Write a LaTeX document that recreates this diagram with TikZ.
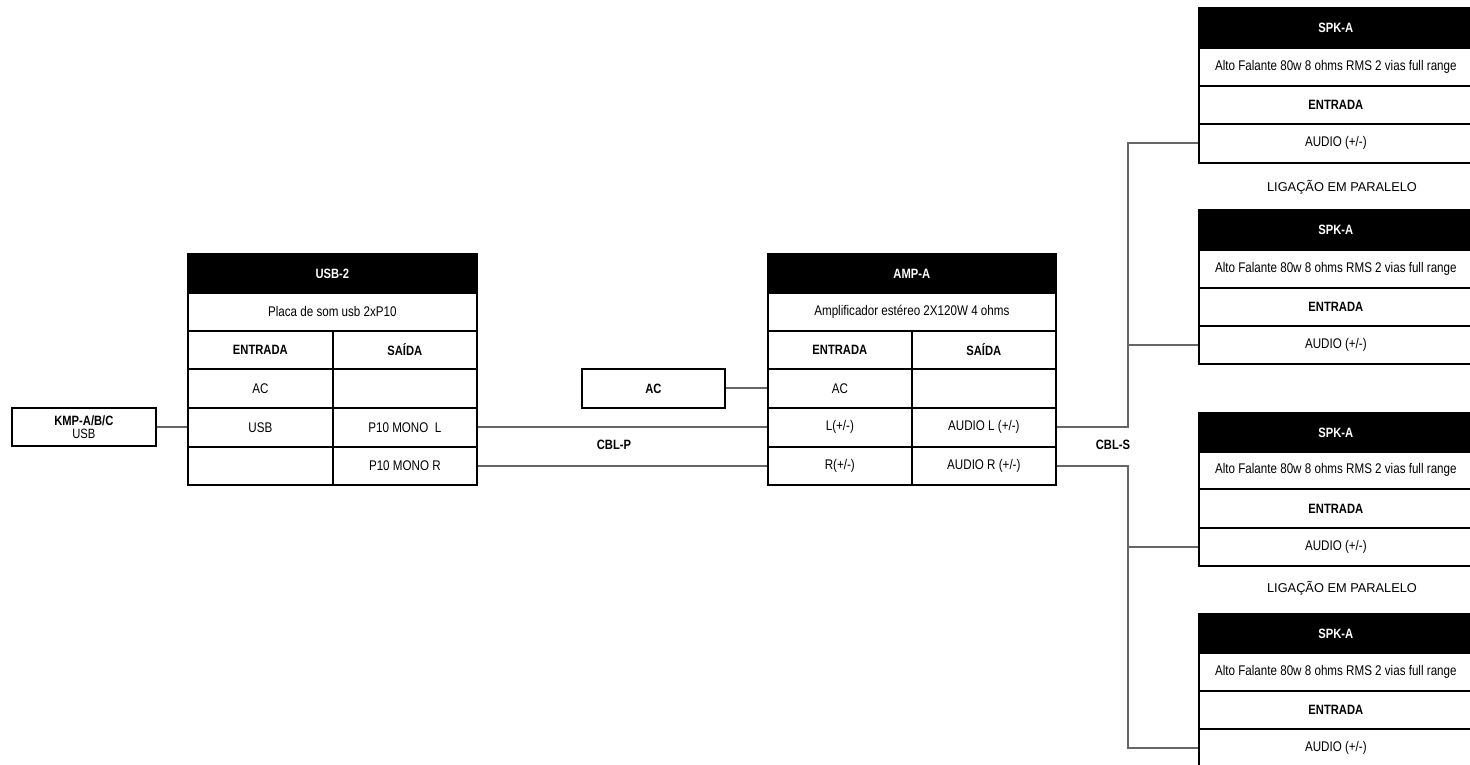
\documentclass[tikz,border=0pt]{standalone}
\usepackage{fontspec}
\setmainfont{Liberation Sans}[FakeStretch=0.83]
\newfontfamily\ligfont{Liberation Sans}
\usetikzlibrary{calc}
\definecolor{wiregray}{HTML}{666666}
\tikzset{
  cell/.style={draw=black, line width=1.7pt, fill=white, inner sep=0pt, anchor=north west, font=\fontsize{14}{16}\selectfont, align=center},
  headcell/.style={cell, fill=black, text=white, font=\fontsize{13.5}{16}\selectfont\bfseries},
  boldcell/.style={cell, font=\fontsize{13.5}{16}\selectfont\bfseries},
  wire/.style={draw=wiregray, line width=1.8pt},
  cbl/.style={font=\fontsize{13.5}{16}\selectfont\bfseries, inner sep=0pt},
  lig/.style={font=\ligfont\fontsize{12.8}{14}\selectfont, inner sep=0pt}
}
\newcommand{\mycell}[7]{% style, name, x1, y1, x2, y2, text
  \node[#1, minimum width={#5-#3}, minimum height={#6-#4}] (#2) at (#3,#4) {#7};}
\newcommand{\speaker}[3]{% prefix, top, rows (header, desc, entrada, bottom)
  \begingroup
  \pgfmathsetmacro{\ya}{#2}%
  \foreach \hb/\db/\eb/\bb in {#3}{%
    \mycell{headcell}{#1h}{1198}{\ya}{1472}{\hb}{SPK-A}
    \mycell{cell}{#1d}{1198}{\hb}{1472}{\db}{Alto Falante 80w 8 ohms RMS 2 vias full range}
    \mycell{boldcell}{#1e}{1198}{\db}{1472}{\eb}{ENTRADA}
    \mycell{cell}{#1a}{1198}{\eb}{1472}{\bb}{AUDIO (+/-)}
  }%
  \endgroup}
\begin{document}
\begin{tikzpicture}[x=1pt, y=-1pt]
\useasboundingbox (0,0) rectangle (1470,764);

% KMP
\node[cell, anchor=north west, minimum width=144, minimum height=38, font=\fontsize{13.5}{13}\selectfont] (kmp) at (11,407) {\textbf{KMP-A/B/C}\\USB};

% USB-2
\mycell{headcell}{uh}{187}{253}{476}{292}{USB-2}
\mycell{cell}{ud}{187}{292}{476}{330}{Placa de som usb 2xP10}
\mycell{boldcell}{uei}{187}{330}{332}{368}{ENTRADA}
\mycell{boldcell}{ueo}{332}{330}{476}{368}{SAÍDA}
\mycell{cell}{uaci}{187}{368}{332}{407}{AC}
\mycell{cell}{uaco}{332}{368}{476}{407}{}
\mycell{cell}{uusb}{187}{407}{332}{446}{USB}
\mycell{cell}{ul}{332}{407}{476}{446}{P10 MONO\ \ L}
\mycell{cell}{ure}{187}{446}{332}{484}{}
\mycell{cell}{ur}{332}{446}{476}{484}{P10 MONO R}

% AC box
\mycell{boldcell}{ac}{581}{368}{724}{407}{AC}

% AMP-A
\mycell{headcell}{ah}{767}{253}{1055}{292}{AMP-A}
\mycell{cell}{ad}{767}{292}{1055}{330}{Amplificador estéreo 2X120W 4 ohms}
\mycell{boldcell}{aei}{767}{330}{911}{368}{ENTRADA}
\mycell{boldcell}{aeo}{911}{330}{1055}{368}{SAÍDA}
\mycell{cell}{aaci}{767}{368}{911}{407}{AC}
\mycell{cell}{aaco}{911}{368}{1055}{407}{}
\mycell{cell}{ali}{767}{407}{911}{446}{L(+/-)}
\mycell{cell}{alo}{911}{407}{1055}{446}{AUDIO L (+/-)}
\mycell{cell}{ari}{767}{446}{911}{484}{R(+/-)}
\mycell{cell}{aro}{911}{446}{1055}{484}{AUDIO R (+/-)}

% Speakers
\speaker{sa}{7}{47/85/123/162}
\speaker{sb}{209}{249/287/325/363}
\speaker{sc}{412}{451/488/527/565}
\speaker{sd}{613}{652/690/728/767}

\node[lig] (lig1) at (1342,187) {LIGAÇÃO EM PARALELO};
\node[lig] (lig2) at (1342,588) {LIGAÇÃO EM PARALELO};

\node[cbl] (cblp) at (614,445) {CBL-P};
\node[cbl] (cbls) at (1113,445) {CBL-S};

\coordinate (bus) at (1128,0);

% wires
\draw[wire] (kmp.east) -- (kmp.east -| uusb.west);
\draw[wire] (ac.east) -- (ac.east -| aaci.west);
\draw[wire] (ul.east) -- (ali.west);
\draw[wire] (ur.east) -- (ari.west);
\draw[wire] (alo.east) -- (alo.east -| bus) |- (saa.west);
\draw[wire] (bus |- sba.west) -- (sba.west);
\draw[wire] (aro.east) -- (aro.east -| bus) |- (sda.west);
\draw[wire] (bus |- sca.west) -- (sca.west);
\end{tikzpicture}
\end{document}
